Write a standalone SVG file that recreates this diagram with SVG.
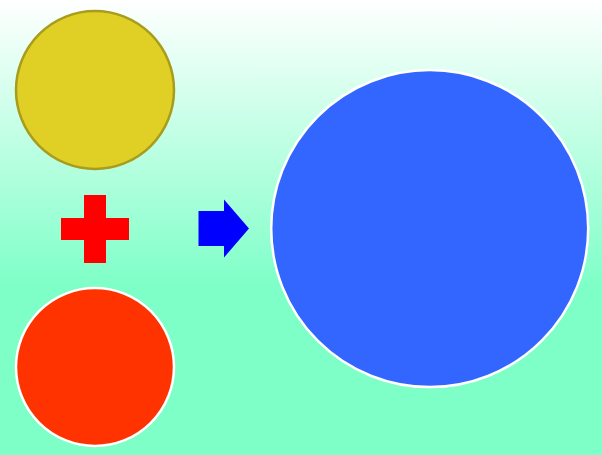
<svg xmlns="http://www.w3.org/2000/svg" width="602" height="455" viewBox="0 0 602 455">
<defs>
<linearGradient id="bg" x1="0" y1="0" x2="0" y2="285" gradientUnits="userSpaceOnUse">
<stop offset="0" stop-color="#ffffff"/>
<stop offset="1" stop-color="#7fffc8"/>
</linearGradient>
</defs>
<style>
.c{stroke-width:2.5}
</style>
<rect width="602" height="455" fill="url(#bg)"/>
<g id="yellow"><circle class="c" cx="95" cy="90" r="79" fill="#e0d026" stroke="#a89c1c"/></g>
<g id="plus"><path d="M84,195 H106 V218 H129 V240 H106 V263 H84 V240 H61 V218 H84 Z" fill="#ff0000"/></g>
<g id="arrow"><path d="M198.5,211 H224 V199.5 L249,228.5 L224,257.5 V246 H198.5 Z" fill="#0000ff"/></g>
<g id="red"><circle class="c" cx="95" cy="367" r="79" fill="#ff3300" stroke="#ffffff"/></g>
<g id="blue"><circle class="c" cx="429.7" cy="228.6" r="158.5" fill="#3366ff" stroke="#ffffff"/></g>
</svg>
